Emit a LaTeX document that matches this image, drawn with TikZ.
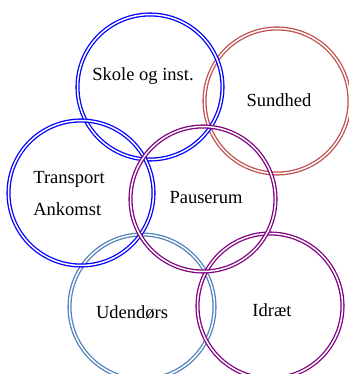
\documentclass[tikz,border=0pt]{standalone}
\usepackage{fontspec}
\setmainfont{Liberation Serif}
\usepackage{xcolor}
\definecolor{ringblue}{RGB}{0,0,255}
\definecolor{ringred}{RGB}{192,80,77}
\definecolor{ringpurple}{RGB}{128,0,128}
\definecolor{ringsteel}{RGB}{79,129,189}

\begin{document}
\begin{tikzpicture}[x=1pt,y=-1pt,
    ring/.style={shape=circle, minimum size=145pt, inner sep=0pt, line width=1.3pt, double=white, double distance=1.5pt},
    lbl/.style={font=\fontsize{18.5}{32}\selectfont, inner sep=0pt}]
    \useasboundingbox (0,0) rectangle (348,374);

    \node[ring, draw=ringred] (sundhed) at (277,101) {};
    \node[ring, draw=ringblue] (skole) at (150,87) {};
    \node[ring, draw=ringsteel] (udendors) at (142,307) {};
    \node[ring, draw=ringpurple] (idraet) at (270,306) {};
    \node[ring, draw=ringblue] (transport) at (81,193) {};
    \node[ring, draw=ringpurple] (pauserum) at (203,199) {};

    \node[lbl] (skoletxt) at (143,76) {Skole og inst.};
    \node[lbl] (sundhedtxt) at (279,100) {Sundhed};
    \node[lbl, align=left] (transporttxt) at (69,194) {Transport\\Ankomst};
    \node[lbl] (pauserumtxt) at (206,198) {Pauserum};
    \node[lbl] (udendorstxt) at (132,312) {Udendørs};
    \node[lbl] (idraettxt) at (272,310) {Idræt};
  \end{tikzpicture}
\end{document}
